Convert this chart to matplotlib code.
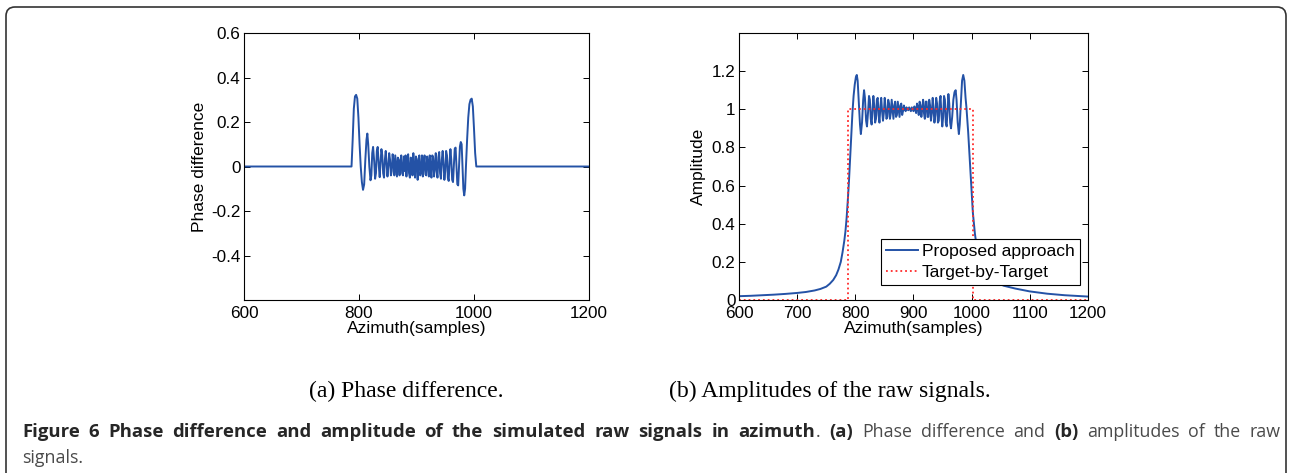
import matplotlib

matplotlib.use("Agg")

import matplotlib.pyplot as plt
from matplotlib.patches import FancyBboxPatch
from matplotlib.transforms import IdentityTransform

W, H = 1289, 473

# (a) phase difference vs azimuth sample
phase_x = [
    600, 787, 789, 791, 793, 795, 797, 799, 801, 803,
    805, 807, 809, 811, 813, 814.5, 816, 818, 820, 821.5,
    823, 824.5, 826.5, 828, 829.5, 831, 832.5, 834.5, 836, 837.5,
    839, 840.5, 842, 843.5, 845, 846.5, 848, 849.5, 851, 852.5,
    854, 855.5, 857, 858.5, 860, 861.5, 863, 864.5, 866, 867.5,
    869, 870.5, 872, 873.5, 875, 876.5, 878, 879.5, 881, 882.5,
    884, 885.5, 887, 888.5, 890, 891.5, 893, 894.5, 896, 897.5,
    899, 900.5, 902, 903.5, 905, 906.5, 908, 909.5, 911, 912.5,
    914, 915.5, 917, 918.5, 920, 921.5, 923, 924.5, 926, 927.5,
    929, 930.5, 932, 933.5, 935, 936.5, 938, 939.5, 941, 942.5,
    944, 945.5, 947, 948.5, 950, 951.5, 953, 954.5, 956, 957.5,
    959, 960.5, 962, 963.5, 965, 966.5, 968, 969.5, 971, 972.5,
    974, 975.5, 977, 978.5, 980, 981.5, 983, 984.5, 986, 988,
    990, 992, 994, 996, 998, 1000, 1002, 1004, 1200,
]
phase_y = [
    0, 0, 0.12, 0.26, 0.315, 0.322, 0.305, 0.22, 0.10, 0.0,
    -0.07, -0.105, -0.08, 0.03, 0.12, 0.148, 0.10, 0.0, -0.062, -0.04,
    0.06, 0.088, 0.02, -0.055, -0.03, 0.07, 0.088, 0.0, -0.048, 0.02,
    0.078, 0.05, -0.03, -0.05, 0.03, 0.07, 0.01, -0.045, 0.0, 0.06,
    0.03, -0.04, -0.02, 0.055, 0.02, -0.04, 0.05, 0.0, -0.045, 0.04,
    0.03, -0.04, 0.02, 0.05, -0.03, -0.04, 0.045, -0.02, 0.05, -0.045,
    0.03, 0.055, -0.03, -0.05, 0.04, 0.02, -0.04, 0.06, -0.01, -0.05,
    0.045, 0.02, -0.06, 0.035, 0.05, -0.04, -0.02, 0.05, -0.045, 0.01,
    0.05, -0.035, -0.04, 0.045, 0.02, -0.045, 0.05, -0.01, -0.05, 0.05,
    0.04, -0.045, 0.0, 0.06, -0.02, -0.05, 0.04, 0.065, -0.03, -0.055,
    0.03, 0.07, 0.01, -0.06, -0.02, 0.07, 0.05, -0.05, -0.065, 0.02,
    0.078, 0.03, -0.06, -0.07, 0.01, 0.08, 0.085, 0.0, -0.08, -0.085,
    0.0, 0.09, 0.11, 0.10, 0.0, -0.10, -0.13, -0.10, 0.0, 0.12,
    0.22, 0.28, 0.30, 0.305, 0.27, 0.17, 0.06, 0.0, 0.0,
]

# (b) amplitude of the raw signal, proposed approach
amp_x = [
    600, 620, 640, 660, 680, 700, 715, 730, 740, 750,
    756, 762, 767, 771, 775, 778, 781, 783, 785, 787,
    789, 791, 793, 795, 797, 799, 801, 802.5, 804, 806,
    808, 809.5, 811.5, 813.5, 815, 816.5, 818.5, 820, 822, 823.5,
    825, 826.5, 828, 829.5, 831, 832.5, 834, 835.5, 837, 838.5,
    840, 841.5, 843, 844.5, 846, 847.5, 849, 850.5, 852, 853.5,
    855, 856.5, 858, 859.5, 861, 862.5, 864, 865.5, 867, 868.5,
    870, 871.5, 873, 874.5, 876, 877.5, 879, 880.5, 882, 883.5,
    885, 886.5, 888, 889.5, 891, 892.5, 894, 895.5, 897, 898.5,
    900, 901.5, 903, 904.5, 906, 907.5, 909, 910.5, 912, 913.5,
    915, 916.5, 918, 919.5, 921, 922.5, 924, 925.5, 927, 928.5,
    930, 931.5, 933, 934.5, 936, 937.5, 939, 940.5, 942, 943.5,
    945, 946.5, 948, 949.5, 951, 952.5, 954, 955.5, 957, 958.5,
    960, 961.5, 963, 964.5, 966.5, 968.5, 970.5, 972.5, 974, 976,
    978, 979.5, 981.5, 983.5, 985.5, 987.5, 989.5, 991, 994, 997,
    1000, 1002, 1005.5, 1009, 1014, 1020, 1030, 1040, 1055, 1075,
    1100, 1130, 1160, 1200,
]
amp_y = [
    0.020, 0.022, 0.025, 0.028, 0.032, 0.037, 0.042, 0.050, 0.058, 0.070,
    0.085, 0.105, 0.13, 0.16, 0.20, 0.25, 0.31, 0.36, 0.43, 0.52,
    0.62, 0.74, 0.87, 0.98, 1.07, 1.13, 1.17, 1.18, 1.15, 1.04,
    0.92, 0.87, 0.93, 1.05, 1.10, 1.06, 0.94, 0.91, 0.99, 1.07,
    1.05, 0.95, 0.92, 1.0, 1.07, 1.02, 0.93, 0.95, 1.05, 1.06,
    0.97, 0.93, 1.01, 1.06, 0.99, 0.94, 0.98, 1.06, 1.01, 0.95,
    0.96, 1.05, 1.03, 0.95, 0.98, 1.05, 1.0, 0.95, 1.02, 1.04,
    0.96, 0.97, 1.04, 1.0, 0.96, 1.02, 1.03, 0.97, 0.99, 1.02,
    1.0, 0.99, 1.01, 1.0, 0.995, 1.01, 1.0, 0.99, 1.01, 1.0,
    0.99, 1.015, 1.0, 0.98, 1.03, 1.01, 0.97, 1.04, 1.02, 0.96,
    1.0, 1.05, 0.98, 0.95, 1.04, 1.04, 0.96, 0.96, 1.05, 1.02,
    0.94, 0.98, 1.06, 1.0, 0.93, 0.97, 1.06, 1.03, 0.93, 0.94,
    1.04, 1.07, 0.97, 0.91, 0.96, 1.07, 1.05, 0.93, 0.91, 1.0,
    1.08, 1.03, 0.93, 0.90, 0.96, 1.05, 1.09, 1.10, 1.05, 0.93,
    0.87, 0.92, 1.04, 1.15, 1.18, 1.15, 1.06, 1.01, 0.88, 0.72,
    0.56, 0.46, 0.35, 0.27, 0.21, 0.16, 0.12, 0.095, 0.075, 0.06,
    0.045, 0.033, 0.025, 0.018,
]

# (b) ideal target-by-target rectangle
target_x = [600, 788, 788, 1002, 1002, 1200]
target_y = [0, 0, 1, 1, 0, 0]

phase_xticks = [600, 800, 1000, 1200]
phase_yticks = [-0.4, -0.2, 0, 0.2, 0.4, 0.6]
phase_yticklabels = ["-0.4", "-0.2", "0", "0.2", "0.4", "0.6"]
amp_xticks = [600, 700, 800, 900, 1000, 1100, 1200]
amp_yticks = [0, 0.2, 0.4, 0.6, 0.8, 1.0, 1.2]
amp_yticklabels = ["0", "0.2", "0.4", "0.6", "0.8", "1", "1.2"]

BLUE = "#2452a6"
RED = "#ff2a2a"

plt.rcParams["font.family"] = ["Liberation Sans", "DejaVu Sans"]


def px_box(x0, y0, x1, y1):
    # pixel box (top-left origin) -> figure fraction rect
    return [x0 / W, 1 - y1 / H, (x1 - x0) / W, (y1 - y0) / H]


def style_axes(ax):
    ax.tick_params(direction="in", length=4, width=0.7, top=True, right=True,
                   labelsize=12.3, colors="black")
    ax.tick_params(axis="x", pad=4)
    ax.tick_params(axis="y", pad=2.5)
    for spine in ax.spines.values():
        spine.set_linewidth(0.8)
        spine.set_color("black")


fig = plt.figure(figsize=(W / 100, H / 100), dpi=100)
fig.patch.set_facecolor("white")

frame = FancyBboxPatch((6, -40), 1280, H - 7 + 40,
                       boxstyle="round,pad=0,rounding_size=9",
                       transform=IdentityTransform(), facecolor="none",
                       edgecolor="#333333", linewidth=1.2)
fig.add_artist(frame)

ax1 = fig.add_axes(px_box(244, 33, 589, 300))
ax1.plot(phase_x, phase_y, color=BLUE, linewidth=1.4)
ax1.set_xlim(600, 1200)
ax1.set_ylim(-0.6, 0.6)
ax1.set_xticks(phase_xticks)
ax1.set_yticks(phase_yticks)
ax1.set_yticklabels(phase_yticklabels)
ax1.set_xlabel("Azimuth(samples)", fontsize=12.5, labelpad=0)
ax1.set_ylabel("Phase difference", fontsize=12.5, labelpad=3)
style_axes(ax1)

ax2 = fig.add_axes(px_box(739, 33, 1088, 300))
ax2.plot(amp_x, amp_y, color=BLUE, linewidth=1.4, label="Proposed approach")
ax2.plot(target_x, target_y, color=RED, linewidth=1.3, linestyle=":",
         label="Target-by-Target")
ax2.set_xlim(600, 1200)
ax2.set_ylim(0, 1.4)
ax2.set_xticks(amp_xticks)
ax2.set_yticks(amp_yticks)
ax2.set_yticklabels(amp_yticklabels)
ax2.set_xlabel("Azimuth(samples)", fontsize=12.5, labelpad=0)
ax2.set_ylabel("Amplitude", fontsize=12.5, labelpad=4)
style_axes(ax2)
leg = ax2.legend(loc="lower right", bbox_to_anchor=(0.977, 0.056),
                 borderaxespad=0, fancybox=False, edgecolor="black",
                 framealpha=1, fontsize=12.6, handlelength=1.85,
                 handletextpad=0.2, labelspacing=0.3, borderpad=0.3)
leg.get_frame().set_linewidth(0.8)

# sub-figure captions
SERIF = ["Liberation Serif", "DejaVu Serif"]
fig.text(406 / W, 1 - 396.7 / H, "(a) Phase difference.", ha="center",
         va="baseline", fontsize=17, family=SERIF)
fig.text(830 / W, 1 - 396.7 / H, "(b) Amplitudes of the raw signals.",
         ha="center", va="baseline", fontsize=17, family=SERIF)

# figure caption, justified between x=22 and x=1280
CAP_FONT = ["Open Sans", "DejaVu Sans"]
CAP_SIZE = 12.8
BOLD_SIZE = 13.3
DARK = "#262626"
GREY = "#4a4a4a"
bold_words = "Figure 6 Phase difference and amplitude of the simulated raw signals in azimuth".split()
tokens = [(w, "bold", DARK, False) for w in bold_words]
tokens += [(".", "normal", GREY, True), ("(a)", "bold", DARK, False)]
tokens += [(w, "normal", GREY, False) for w in "Phase difference and".split()]
tokens += [("(b)", "bold", DARK, False)]
tokens += [(w, "normal", GREY, False) for w in "amplitudes of the raw".split()]

renderer = fig.canvas.get_renderer()
base_y = 1 - 436.7 / H
words = []
for word, weight, color, joined in tokens:
    size = BOLD_SIZE if weight == "bold" else CAP_SIZE
    t = fig.text(0, base_y, word, fontsize=size, fontweight=weight,
                 color=color, family=CAP_FONT, va="baseline")
    words.append((t, t.get_window_extent(renderer).width, joined))

n_gaps = sum(1 for _, _, j in words[1:] if not j)
total = sum(w for _, w, _ in words)
gap = (1280 - 22 - total) / n_gaps
x = 22.0
for i, (t, w, joined) in enumerate(words):
    if i > 0 and not joined:
        x += gap
    elif joined:
        x += 1
    t.set_x(x / W)
    x += w

fig.text(22 / W, 1 - 463.3 / H, "signals.", fontsize=CAP_SIZE, color=GREY,
         family=CAP_FONT, va="baseline")

fig.savefig("out.png", dpi=100)
